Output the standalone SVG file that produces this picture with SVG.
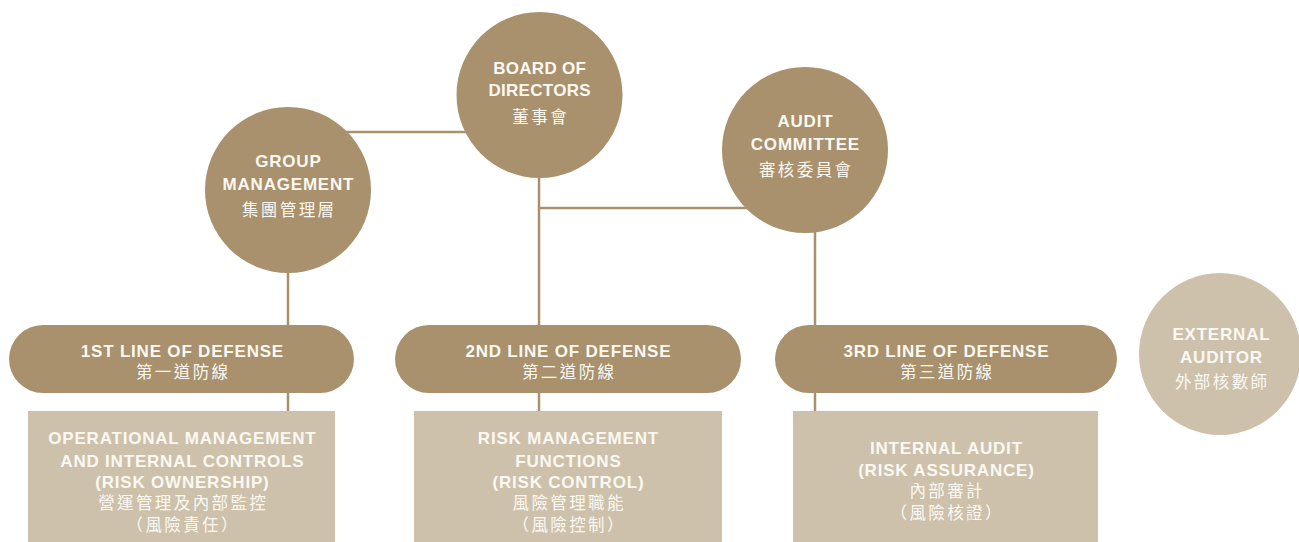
<svg xmlns="http://www.w3.org/2000/svg" width="1299" height="542" viewBox="0 0 1299 542">
<style>
.dark{fill:#a8916c}
.light{fill:#cdc1ab}
.ln{stroke:#a8916c;stroke-width:2.5;fill:none}
text{font-family:"Liberation Sans","Noto Sans CJK TC",sans-serif;fill:#fbf8f2;text-anchor:middle}
.en{font-size:17px;font-weight:bold;letter-spacing:0.8px}
.bd{letter-spacing:0.3px}
.zh{font-size:16.5px;letter-spacing:2.4px}
</style>
<rect width="1299" height="542" fill="#ffffff"/>
<g id="connectors">
<line class="ln" x1="340" y1="132" x2="470" y2="132"/>
<line class="ln" x1="539" y1="170" x2="539" y2="330"/>
<line class="ln" x1="539" y1="388" x2="539" y2="412"/>
<line class="ln" x1="539" y1="208" x2="760" y2="208"/>
<line class="ln" x1="815" y1="225" x2="815" y2="412"/>
<line class="ln" x1="288" y1="265" x2="288" y2="412"/>
</g>
<g id="board">
<circle class="dark" cx="539.5" cy="95" r="83"/>
<text class="en bd" x="539.7" y="74">BOARD OF</text>
<text class="en bd" x="539.7" y="96">DIRECTORS</text>
<text class="zh" x="540.7" y="123">董事會</text>
</g>
<g id="group-management">
<circle class="dark" cx="288" cy="190" r="83"/>
<text class="en" x="288.4" y="167">GROUP</text>
<text class="en" x="288.4" y="190">MANAGEMENT</text>
<text class="zh" x="289.2" y="216">集團管理層</text>
</g>
<g id="audit-committee">
<circle class="dark" cx="805" cy="150" r="83"/>
<text class="en" x="805.4" y="127">AUDIT</text>
<text class="en" x="805.4" y="150">COMMITTEE</text>
<text class="zh" x="806.2" y="176">審核委員會</text>
</g>
<g id="external-auditor">
<circle class="light" cx="1220" cy="354" r="81"/>
<text class="en" x="1221.4" y="340">EXTERNAL</text>
<text class="en" x="1221.4" y="363">AUDITOR</text>
<text class="zh" x="1222.2" y="388">外部核數師</text>
</g>
<g id="line1">
<rect class="dark" x="9" y="325" width="345" height="68" rx="34"/>
<text class="en" x="182.4" y="357">1ST LINE OF DEFENSE</text>
<text class="zh" x="183.2" y="378">第一道防線</text>
</g>
<g id="line2">
<rect class="dark" x="395" y="325" width="346" height="68" rx="34"/>
<text class="en" x="568.4" y="357">2ND LINE OF DEFENSE</text>
<text class="zh" x="569.2" y="378">第二道防線</text>
</g>
<g id="line3">
<rect class="dark" x="775" y="325" width="342" height="68" rx="34"/>
<text class="en" x="946.4" y="357">3RD LINE OF DEFENSE</text>
<text class="zh" x="947.2" y="378">第三道防線</text>
</g>
<g id="box1">
<rect class="light" x="28" y="411" width="307" height="131"/>
<text class="en" x="182.4" y="444">OPERATIONAL MANAGEMENT</text>
<text class="en" x="182.4" y="467">AND INTERNAL CONTROLS</text>
<text class="en" x="182.4" y="488">(RISK OWNERSHIP)</text>
<text class="zh" x="183.2" y="509">營運管理及內部監控</text>
<text class="zh" x="183.2" y="531">（風險責任）</text>
</g>
<g id="box2">
<rect class="light" x="414" y="411" width="308" height="131"/>
<text class="en" x="568.4" y="444">RISK MANAGEMENT</text>
<text class="en" x="568.4" y="467">FUNCTIONS</text>
<text class="en" x="568.4" y="488">(RISK CONTROL)</text>
<text class="zh" x="569.2" y="509">風險管理職能</text>
<text class="zh" x="569.2" y="531">（風險控制）</text>
</g>
<g id="box3">
<rect class="light" x="793" y="411" width="305" height="131"/>
<text class="en" x="946.4" y="454">INTERNAL AUDIT</text>
<text class="en" x="946.4" y="476">(RISK ASSURANCE)</text>
<text class="zh" x="947.2" y="497">內部審計</text>
<text class="zh" x="947.2" y="519">（風險核證）</text>
</g>
</svg>
